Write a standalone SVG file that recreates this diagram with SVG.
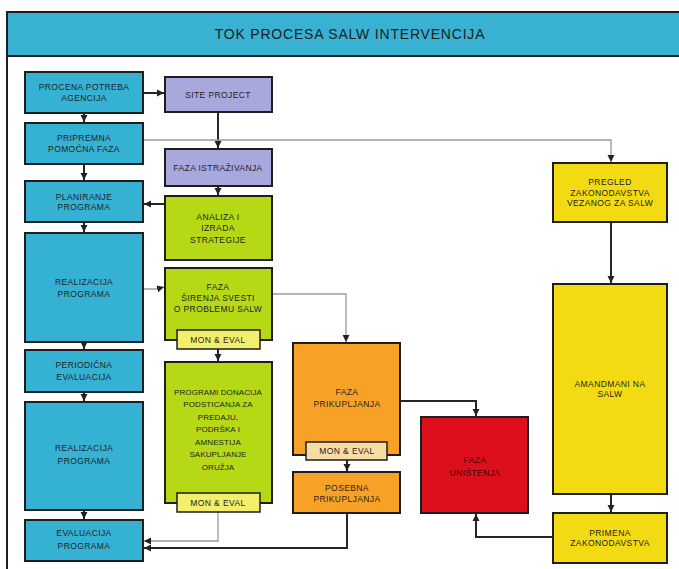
<svg xmlns="http://www.w3.org/2000/svg" width="679" height="569" viewBox="0 0 679 569">
<style>
.bx{stroke:#1e1e1e;stroke-width:2}
.blue{fill:#35b2d3}
.pur{fill:#a9a8dc}
.grn{fill:#b6d916}
.org{fill:#f7a226}
.red{fill:#de0f1c}
.yel{fill:#f3db14}
.me1{fill:#f3ee6c;stroke:#1e1e1e;stroke-width:1.5}
.me2{fill:#f7dca4;stroke:#1e1e1e;stroke-width:1.5}
text{font-family:"Liberation Sans",Arial,sans-serif;font-size:8.5px;fill:#1e1e1e;text-anchor:middle;letter-spacing:0.4px}
.t{font-size:14px;letter-spacing:0.8px}
.s{font-size:8px;letter-spacing:0.1px}
.rt{fill:#3a0000}
.c{fill:none;stroke:#262626;stroke-width:2}
.g{fill:none;stroke:#9a9a9a;stroke-width:1.3}
</style>
<defs>
<marker id="a" markerWidth="8" markerHeight="8" refX="7" refY="4" orient="auto" markerUnits="userSpaceOnUse">
<path d="M0,0.5 L7,4 L0,7.5 Z" fill="#222"/>
</marker>
</defs>
<rect x="0" y="0" width="679" height="569" fill="#fff"/>
<g id="frame">
<line x1="7" y1="56" x2="7" y2="569" stroke="#1e1e1e" stroke-width="2"/>
<rect x="7" y="12" width="680" height="44" fill="#38b1d2" stroke="#1e1e1e" stroke-width="2"/>
<text class="t" x="350" y="39">TOK PROCESA SALW INTERVENCIJA</text>
</g>
<g id="connectors">
<path class="c" d="M84,113 V122" marker-end="url(#a)"/>
<path class="c" d="M143,93 H164" marker-end="url(#a)"/>
<path class="c" d="M218,112 V148" marker-end="url(#a)"/>
<path class="g" d="M143,140 H611 V162" marker-end="url(#a)"/>
<path class="c" d="M84,164 V180" marker-end="url(#a)"/>
<path class="c" d="M218,186 V195" marker-end="url(#a)"/>
<path class="c" d="M165,204 H144" marker-end="url(#a)"/>
<path class="c" d="M84,222 V232" marker-end="url(#a)"/>
<path class="g" d="M143,289 H157 L164,287" marker-end="url(#a)"/>
<path class="g" d="M272,294 H346 V342" marker-end="url(#a)"/>
<path class="c" d="M218,349 V361" marker-end="url(#a)"/>
<path class="c" d="M84,342 V349" marker-end="url(#a)"/>
<path class="c" d="M84,392 V401" marker-end="url(#a)"/>
<path class="c" d="M84,510 V519" marker-end="url(#a)"/>
<path class="g" d="M218,512 V541 H144" marker-end="url(#a)"/>
<path class="c" d="M347,513 V548 H144" marker-end="url(#a)"/>
<path class="c" d="M347,460 V471" marker-end="url(#a)"/>
<path class="c" d="M400,401 H476 V416" marker-end="url(#a)"/>
<path class="c" d="M553,537 H476 V514" marker-end="url(#a)"/>
<path class="c" d="M611,222 V283" marker-end="url(#a)"/>
<path class="c" d="M611,494 V512" marker-end="url(#a)"/>
</g>
<g id="n-procena">
<rect class="bx blue" x="25" y="72" width="118" height="41"/>
<text x="84" y="90">PROCENA POTREBA</text>
<text x="84" y="101">AGENCIJA</text>
</g>
<g id="n-pripremna">
<rect class="bx blue" x="25" y="123" width="118" height="41"/>
<text x="84" y="141">PRIPREMNA</text>
<text x="84" y="152">POMOĆNA FAZA</text>
</g>
<g id="n-planiranje">
<rect class="bx blue" x="25" y="181" width="118" height="41"/>
<text x="84" y="200">PLANIRANJE</text>
<text x="84" y="210">PROGRAMA</text>
</g>
<g id="n-realizacija1">
<rect class="bx blue" x="25" y="233" width="118" height="109"/>
<text x="84" y="285">REALIZACIJA</text>
<text x="84" y="297">PROGRAMA</text>
</g>
<g id="n-periodicna">
<rect class="bx blue" x="25" y="350" width="118" height="42"/>
<text x="84" y="368">PERIODIČNA</text>
<text x="84" y="380">EVALUACIJA</text>
</g>
<g id="n-realizacija2">
<rect class="bx blue" x="25" y="402" width="118" height="108"/>
<text x="84" y="451">REALIZACIJA</text>
<text x="84" y="464">PROGRAMA</text>
</g>
<g id="n-evaluacija">
<rect class="bx blue" x="25" y="520" width="118" height="41"/>
<text x="84" y="536">EVALUACIJA</text>
<text x="84" y="549">PROGRAMA</text>
</g>
<g id="n-projekt">
<rect class="bx pur" x="165" y="77" width="107" height="35"/>
<text x="218" y="98">SITE PROJECT</text>
</g>
<g id="n-istrazivanja">
<rect class="bx pur" x="165" y="149" width="107" height="37"/>
<text x="218" y="171">FAZA ISTRAŽIVANJA</text>
</g>
<g id="n-analiza">
<rect class="bx grn" x="165" y="196" width="107" height="64"/>
<text x="218" y="220">ANALIZA I</text>
<text x="218" y="231">IZRADA</text>
<text x="218" y="243">STRATEGIJE</text>
</g>
<g id="n-sirenje">
<rect class="bx grn" x="165" y="268" width="107" height="72"/>
<text x="218" y="290">FAZA</text>
<text x="218" y="301">ŠIRENJA SVESTI</text>
<text x="218" y="312">O PROBLEMU SALW</text>
<rect class="me1" x="177" y="330" width="83" height="19"/>
<text x="218" y="343">MON &amp; EVAL</text>
</g>
<g id="n-programi">
<rect class="bx grn" x="165" y="362" width="107" height="141"/>
<text class="s" x="218" y="395">PROGRAMI DONACIJA</text>
<text class="s" x="218" y="407">PODSTICANJA ZA</text>
<text class="s" x="218" y="420">PREDAJU,</text>
<text class="s" x="218" y="432">PODRŠKA I</text>
<text class="s" x="218" y="445">AMNESTIJA</text>
<text class="s" x="218" y="457">SAKUPLJANJE</text>
<text class="s" x="218" y="470">ORUŽJA</text>
<rect class="me1" x="177" y="493" width="83" height="19"/>
<text x="218" y="506">MON &amp; EVAL</text>
</g>
<g id="n-prikupljanje">
<rect class="bx org" x="293" y="343" width="107" height="112"/>
<text x="347" y="395">FAZA</text>
<text x="347" y="407">PRIKUPLJANJA</text>
<rect class="me2" x="306" y="442" width="81" height="18"/>
<text x="347" y="454">MON &amp; EVAL</text>
</g>
<g id="n-posebna">
<rect class="bx org" x="293" y="472" width="107" height="41"/>
<text x="347" y="491">POSEBNA</text>
<text x="347" y="502">PRIKUPLJANJA</text>
</g>
<g id="n-unistenje">
<rect class="bx red" x="421" y="417" width="107" height="96"/>
<text class="rt" x="475" y="463">FAZA</text>
<text class="rt" x="475" y="476">UNIŠTENJA</text>
</g>
<g id="n-pregled">
<rect class="bx yel" x="553" y="163" width="114" height="59"/>
<text x="610" y="185">PREGLED</text>
<text x="610" y="196">ZAKONODAVSTVA</text>
<text x="610" y="206">VEZANOG ZA SALW</text>
</g>
<g id="n-amandmani">
<rect class="bx yel" x="553" y="284" width="114" height="210"/>
<text x="610" y="387">AMANDMANI NA</text>
<text x="610" y="397">SALW</text>
</g>
<g id="n-primena">
<rect class="bx yel" x="553" y="513" width="114" height="50"/>
<text x="610" y="536">PRIMENA</text>
<text x="610" y="546">ZAKONODAVSTVA</text>
</g>
</svg>
